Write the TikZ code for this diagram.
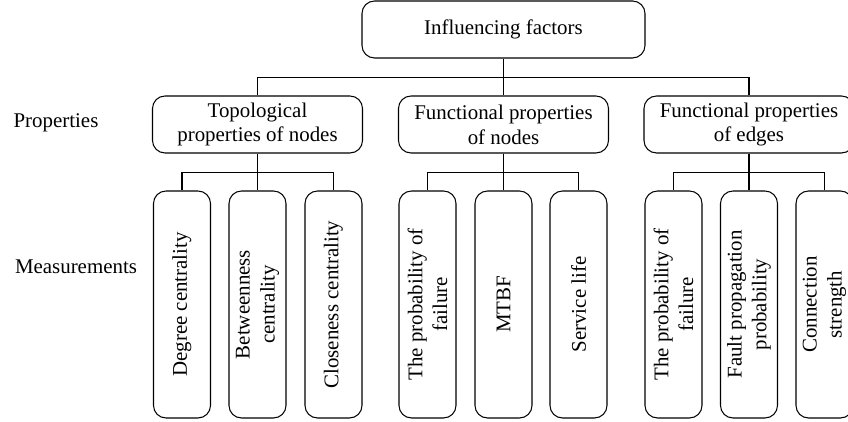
\documentclass[tikz,border=0pt]{standalone}
\usepackage{fontspec}
\setmainfont{Liberation Serif}
\usepackage{tikz}
\usetikzlibrary{positioning}

\tikzset{
    factorbox/.style={draw, rounded corners=0.25cm, line width=0.6pt, align=center,
        minimum width=4.2cm, minimum height=1.14cm, inner sep=2pt},
    measurebox/.style={draw, rounded corners=0.25cm, line width=0.6pt, align=center,
        rotate=90, minimum width=4.54cm, minimum height=1.14cm, inner sep=1pt},
    branch/.style={line width=0.6pt}
}

\begin{document}
\begin{tikzpicture}[font=\fontsize{11.9}{14.2}\selectfont]
        \useasboundingbox (0,0) rectangle (16.96,8.44);
        % Root
        \node[factorbox, minimum width=5.66cm] (root) at (10.07,7.85) {Influencing factors};
        % Properties
        \node[factorbox] (topo) at (5.15,5.95) {Topological\\properties of nodes};
        \node[factorbox] (fnodes) at (10.07,5.95) {Functional properties\\of nodes};
        \node[factorbox] (fedges) at (14.98,5.95) {Functional properties\\of edges};
        % Measurements
        \node[measurebox] (degree) at (3.64,2.35) {Degree centrality};
        \node[measurebox] (between) at (5.15,2.35) {Betweenness\\centrality};
        \node[measurebox] (close) at (6.67,2.35) {Closeness centrality};
        \node[measurebox] (nfail) at (8.55,2.35) {The probability of\\failure};
        \node[measurebox] (mtbf) at (10.07,2.35) {MTBF};
        \node[measurebox] (life) at (11.57,2.35) {Service life};
        \node[measurebox] (efail) at (13.47,2.35) {The probability of\\failure};
        \node[measurebox] (spread) at (14.98,2.35) {Fault propagation\\probability};
        \node[measurebox] (strength) at (16.49,2.35) {Connection\\strength};
        % Row labels
        \node (proplabel) at (1.12,5.98) {Properties};
        \node (measlabel) at (1.52,3.1) {Measurements};
        % Branches
        \foreach \child in {topo,fnodes,fedges}
            \draw[branch] (root.south) -- ++(0,-0.38) -| (\child.north);
        \foreach \child in {degree,between,close}
            \draw[branch] (topo.south) -- ++(0,-0.38) -| (\child.east);
        \foreach \child in {nfail,mtbf,life}
            \draw[branch] (fnodes.south) -- ++(0,-0.38) -| (\child.east);
        \foreach \child in {efail,spread,strength}
            \draw[branch] (fedges.south) -- ++(0,-0.38) -| (\child.east);
    \end{tikzpicture}
\end{document}
